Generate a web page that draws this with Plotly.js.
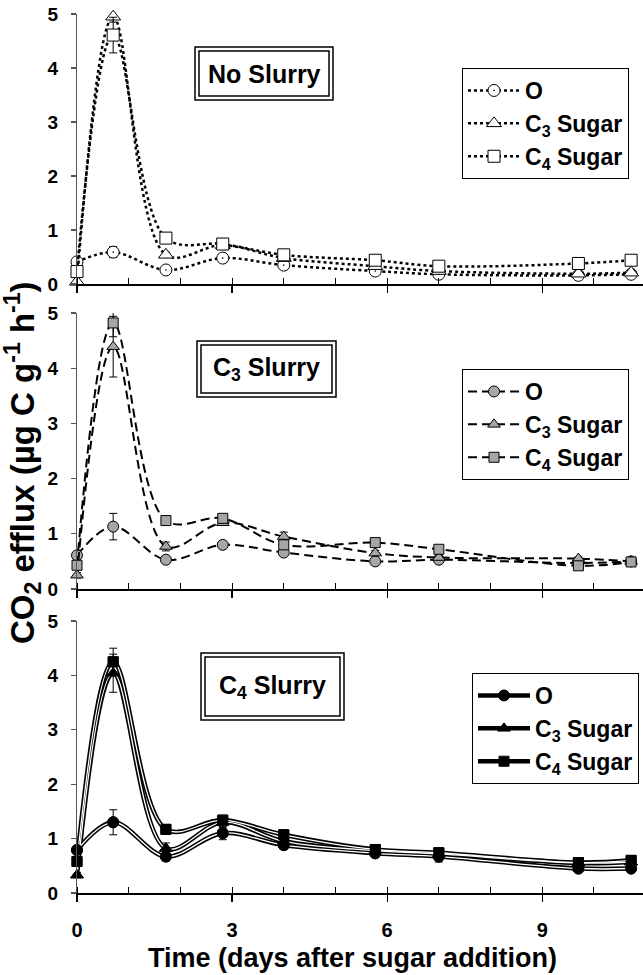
<!DOCTYPE html>
<html>
<head>
<meta charset="utf-8">
<script src="https://cdn.plot.ly/plotly-3.0.1.min.js"></script>
<style>
  html, body { margin: 0; padding: 0; background: #fff; }
  #chart { width: 643px; height: 975px; }
</style>
</head>
<body>
<div id="chart"></div>
<script>
// ---- data ----
const days = [0, 0.7, 1.72, 2.82, 4.0, 5.77, 7.0, 9.7, 10.72];
const seriesNames = ["O", "C<sub>3</sub> Sugar", "C<sub>4</sub> Sugar"];
const panelTitles = ["No Slurry", "C<sub>3</sub> Slurry", "C<sub>4</sub> Slurry"];

const noSlurryO  = [0.41, 0.59, 0.26, 0.48, 0.35, 0.24, 0.18, 0.16, 0.18];
const noSlurryC3 = [0.04, 4.95, 0.54, 0.72, 0.48, 0.33, 0.24, 0.19, 0.21];
const noSlurryC4 = [0.23, 4.61, 0.85, 0.74, 0.54, 0.44, 0.33, 0.38, 0.44];
const noSlurryOErr  = [0.05, 0.10, 0.05, 0.06, 0.05, 0.03, 0.03, 0.03, 0.03];
const noSlurryC3Err = [0.02, 0.10, 0.05, 0.05, 0.05, 0.03, 0.03, 0.03, 0.03];
const noSlurryC4Err = [0.05, 0.33, 0.05, 0.05, 0.05, 0.03, 0.03, 0.03, 0.03];

const c3SlurryO  = [0.61, 1.13, 0.53, 0.80, 0.66, 0.50, 0.53, 0.47, 0.50];
const c3SlurryC3 = [0.25, 4.39, 0.77, 1.20, 0.95, 0.65, 0.57, 0.55, 0.50];
const c3SlurryC4 = [0.43, 4.82, 1.24, 1.28, 0.80, 0.84, 0.72, 0.42, 0.49];
const c3SlurryOErr  = [0.05, 0.24, 0.05, 0.05, 0.05, 0.03, 0.03, 0.03, 0.03];
const c3SlurryC3Err = [0.05, 0.55, 0.08, 0.05, 0.08, 0.05, 0.03, 0.03, 0.03];
const c3SlurryC4Err = [0.05, 0.25, 0.05, 0.05, 0.05, 0.05, 0.03, 0.03, 0.03];

const c4SlurryO  = [0.79, 1.30, 0.67, 1.10, 0.88, 0.73, 0.67, 0.45, 0.45];
const c4SlurryC3 = [0.33, 4.04, 0.82, 1.30, 0.95, 0.78, 0.72, 0.55, 0.57];
const c4SlurryC4 = [0.58, 4.25, 1.17, 1.34, 1.07, 0.80, 0.74, 0.56, 0.60];
const c4SlurryOErr  = [0.05, 0.23, 0.08, 0.12, 0.08, 0.05, 0.10, 0.05, 0.05];
const c4SlurryC3Err = [0.05, 0.35, 0.10, 0.10, 0.05, 0.05, 0.05, 0.05, 0.05];
const c4SlurryC4Err = [0.05, 0.25, 0.05, 0.08, 0.05, 0.05, 0.05, 0.05, 0.05];

const xTickVals = [0, 3, 6, 9];
const yTickVals = [0, 1, 2, 3, 4, 5];

// ---- styling ----
const FONT = "Liberation Sans, Arial, sans-serif";
const W = 643, H = 975, ML = 77, MR = 0, MT = 14, MB = 82;
const PW = W - ML - MR, PH = H - MT - MB;
const px = v => (v - ML) / PW;
const py = v => 1 - (v - MT) / PH;

const errStyle = arr => ({type: 'data', array: arr, visible: true, color: '#000', thickness: 1, width: 4});

const traces = [];
// Panel 1: dotted, open markers
const p1 = [[noSlurryO, noSlurryOErr, 'circle-dot', 12], [noSlurryC3, noSlurryC3Err, 'triangle-up', 13], [noSlurryC4, noSlurryC4Err, 'square', 12]];
p1.forEach((s, i) => {
  traces.push({
    x: days, y: s[0], name: seriesNames[i], xaxis: 'x', yaxis: 'y', legend: 'legend',
    mode: 'lines+markers', cliponaxis: false,
    line: {color: '#000', width: 2.5, dash: '3px,3px', shape: 'spline', smoothing: 1},
    marker: {symbol: s[2], size: s[3], color: '#fff', line: {color: '#000', width: 1}},
    error_y: errStyle(s[1])
  });
});
// Panel 2: dashed, gray markers
const p2 = [[c3SlurryO, c3SlurryOErr, 'circle', 11], [c3SlurryC3, c3SlurryC3Err, 'triangle-up', 11], [c3SlurryC4, c3SlurryC4Err, 'square', 10]];
p2.forEach((s, i) => {
  traces.push({
    x: days, y: s[0], name: seriesNames[i], xaxis: 'x2', yaxis: 'y2', legend: 'legend2',
    mode: 'lines+markers', cliponaxis: false,
    line: {color: '#000', width: 2, dash: '9px,5px', shape: 'spline', smoothing: 1},
    marker: {symbol: s[2], size: s[3], color: '#a6a6a6', line: {color: '#000', width: 1}},
    error_y: errStyle(s[1])
  });
});
// Panel 3: double solid lines, black markers
const p3 = [[c4SlurryO, c4SlurryOErr, 'circle', 11], [c4SlurryC3, c4SlurryC3Err, 'triangle-up', 11], [c4SlurryC4, c4SlurryC4Err, 'square', 10]];
p3.forEach((s, i) => {
  traces.push({
    x: days, y: s[0], name: seriesNames[i], xaxis: 'x3', yaxis: 'y3', legend: 'legend3',
    mode: 'lines+markers', cliponaxis: false,
    line: {color: '#000', width: 4.5, shape: 'spline', smoothing: 1},
    marker: {symbol: s[2], size: s[3], color: '#000', line: {color: '#000', width: 1}}
  });
});
p3.forEach((s, i) => {
  traces.push({
    x: days, y: s[0], name: seriesNames[i], xaxis: 'x3', yaxis: 'y3', showlegend: false,
    mode: 'lines', line: {color: '#fff', width: 1.3, shape: 'spline', smoothing: 1}, hoverinfo: 'skip'
  });
});
p3.forEach((s, i) => {
  traces.push({
    x: days, y: s[0], name: seriesNames[i], xaxis: 'x3', yaxis: 'y3', showlegend: false,
    mode: 'markers', cliponaxis: false,
    marker: {symbol: s[2], size: s[3], color: '#000', line: {color: '#000', width: 1}},
    error_y: errStyle(s[1])
  });
});

const xBase = (anchor, showLabels) => ({
  anchor: anchor, range: [0, 10.95], showgrid: false, zeroline: false,
  showline: true, linecolor: '#000', linewidth: 1.5,
  tickmode: 'array', tickvals: xTickVals, ticktext: xTickVals.map(String),
  ticks: 'outside', ticklen: 7, tickcolor: '#000', tickwidth: 1.2,
  showticklabels: showLabels, ticklabelstandoff: 11,
  tickfont: {family: FONT, size: 20, color: '#000', weight: 'bold'},
  minor: {dtick: 1, tick0: 0, ticks: 'inside', ticklen: 6, tickcolor: '#000', tickwidth: 1, showgrid: false}
});
const yBase = (anchor, domain) => ({
  anchor: anchor, domain: domain, range: [0, 5], showgrid: false, zeroline: false,
  showline: true, linecolor: '#555', linewidth: 1.2,
  tickmode: 'array', tickvals: yTickVals, ticktext: yTickVals.map(String),
  ticks: 'outside', ticklen: 5, tickcolor: '#555', tickwidth: 1.2, ticklabelstandoff: 9,
  tickfont: {family: FONT, size: 19, color: '#000', weight: 'bold'}
});

const legendBase = (x, y) => ({
  x: x, y: y, xanchor: 'left', yanchor: 'top', bgcolor: '#fff',
  bordercolor: '#000', borderwidth: 1, itemwidth: 52,
  font: {family: FONT, size: 23, color: '#000', weight: 'bold'}
});

// panel title boxes (pixel coords converted to paper)
const boxes = [
  {x0: 195, x1: 333, y0: 47, y1: 100},
  {x0: 197, x1: 336, y0: 341, y1: 397},
  {x0: 201, x1: 344, y0: 653, y1: 720}
];
const shapes = [];
const annotations = [];
boxes.forEach((b, i) => {
  shapes.push({type: 'rect', xref: 'paper', yref: 'paper', x0: px(b.x0), x1: px(b.x1), y0: py(b.y1), y1: py(b.y0),
    line: {color: '#000', width: 1.5}, fillcolor: '#fff', layer: 'above'});
  shapes.push({type: 'rect', xref: 'paper', yref: 'paper', x0: px(b.x0 + 4), x1: px(b.x1 - 4), y0: py(b.y1 - 4), y1: py(b.y0 + 4),
    line: {color: '#000', width: 1.5}, fillcolor: 'rgba(0,0,0,0)', layer: 'above'});
  annotations.push({xref: 'paper', yref: 'paper', x: px((b.x0 + b.x1) / 2), y: py((b.y0 + b.y1) / 2),
    xanchor: 'center', yanchor: 'middle', showarrow: false, text: panelTitles[i],
    font: {family: FONT, size: 25, color: '#000', weight: 'bold'}});
});
annotations.push({xref: 'paper', yref: 'paper', x: px(22), y: py(463), xanchor: 'center', yanchor: 'middle',
  textangle: -90, showarrow: false, text: 'CO<sub>2</sub> efflux (µg C g<sup>-1</sup> h<sup>-1</sup>)',
  font: {family: FONT, size: 33, color: '#000', weight: 'bold'}});
annotations.push({xref: 'paper', yref: 'paper', x: px(352), y: py(958), xanchor: 'center', yanchor: 'middle',
  showarrow: false, text: 'Time (days after sugar addition)',
  font: {family: FONT, size: 27, color: '#000', weight: 'bold'}});

const layout = {
  width: W, height: H, margin: {l: ML, r: MR, t: MT, b: MB},
  paper_bgcolor: '#fff', plot_bgcolor: '#fff',
  xaxis: xBase('y', false), xaxis2: xBase('y2', false), xaxis3: xBase('y3', true),
  yaxis: yBase('x', [py(284), 1]),
  yaxis2: yBase('x2', [py(589), py(313)]),
  yaxis3: yBase('x3', [0, py(621)]),
  legend: legendBase(px(462), py(68)),
  legend2: legendBase(px(462), py(369)),
  legend3: legendBase(px(472), py(673)),
  shapes: shapes, annotations: annotations, showlegend: true
};

Plotly.newPlot('chart', traces, layout, {displayModeBar: false, staticPlot: true});
</script>
</body>
</html>
